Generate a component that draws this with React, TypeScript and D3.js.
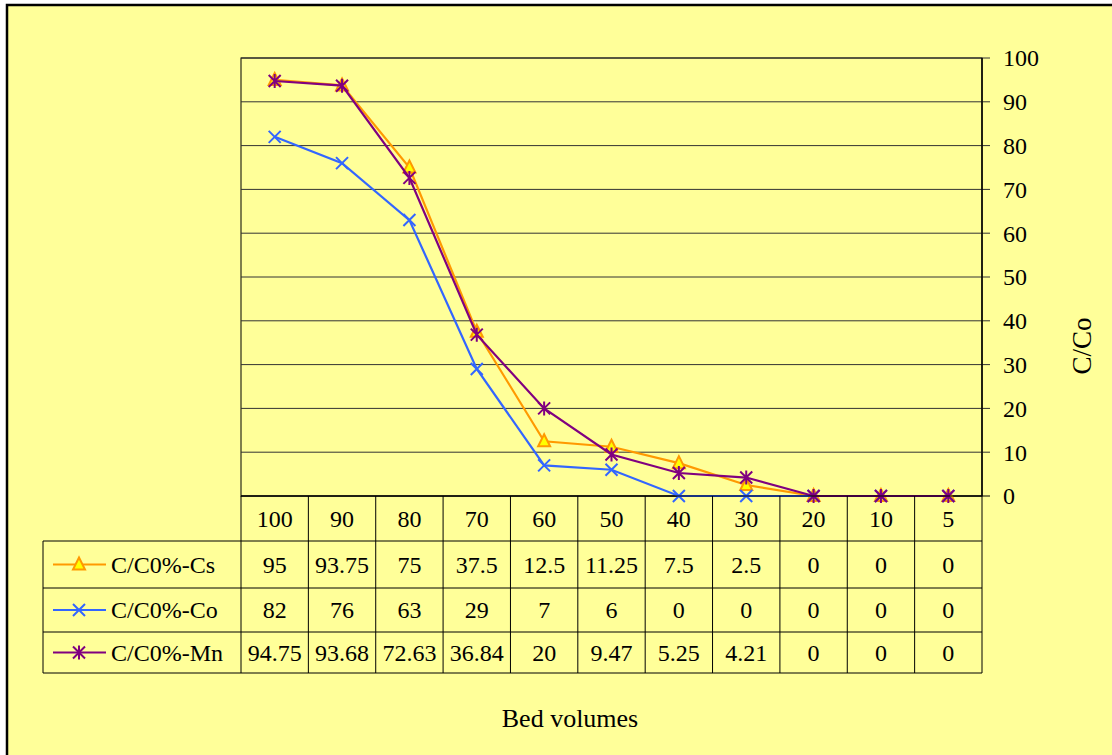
import React from "react";
import * as d3 from "d3";

const categories = ["100", "90", "80", "70", "60", "50", "40", "30", "20", "10", "5"];
const csValues = [95, 93.75, 75, 37.5, 12.5, 11.25, 7.5, 2.5, 0, 0, 0];
const coValues = [82, 76, 63, 29, 7, 6, 0, 0, 0, 0, 0];
const mnValues = [94.75, 93.68, 72.63, 36.84, 20, 9.47, 5.25, 4.21, 0, 0, 0];
const yTicks = [0, 10, 20, 30, 40, 50, 60, 70, 80, 90, 100];

const seriesList = [
  { name: "C/C0%-Cs", values: csValues, color: "#FF9900", marker: "triangle" },
  { name: "C/C0%-Co", values: coValues, color: "#3366FF", marker: "x" },
  { name: "C/C0%-Mn", values: mnValues, color: "#800080", marker: "star" },
];

const W = 1112;
const H = 755;
const plotLeft = 241;
const plotRight = 982;
const plotTop = 58;
const plotBottom = 496;
const tableLeft = 43;
const rowEdges = [496, 541, 588, 632, 673];
const serif = "Liberation Serif";
const bg = "#FFFF99";
const txt = { fontFamily: serif, fill: "#000" } as React.CSSProperties;
const fs = 24;

function Marker({ kind, x, y, color }: { kind: string; x: number; y: number; color: string }) {
  const s = 6;
  if (kind === "triangle") {
    return (
      <path
        d={`M${x},${y - s - 1}L${x + s},${y + s - 1}L${x - s},${y + s - 1}Z`}
        fill="#FFFF00"
        stroke={color}
        strokeWidth={2}
      />
    );
  }
  if (kind === "x") {
    return (
      <path
        d={`M${x - s},${y - s}L${x + s},${y + s}M${x - s},${y + s}L${x + s},${y - s}`}
        stroke={color}
        strokeWidth={2}
        fill="none"
      />
    );
  }
  return (
    <path
      d={`M${x - s},${y - s}L${x + s},${y + s}M${x - s},${y + s}L${x + s},${y - s}M${x},${y - s - 1}L${x},${y + s + 1}`}
      stroke={color}
      strokeWidth={2}
      fill="none"
    />
  );
}

export default function App() {
  const x = d3.scaleBand<string>().domain(categories).range([plotLeft, plotRight]);
  const y = d3.scaleLinear().domain([0, 100]).range([plotBottom, plotTop]);
  const cx = (c: string) => (x(c) as number) + x.bandwidth() / 2;
  const line = d3
    .line<number>()
    .x((_, i) => cx(categories[i]))
    .y((d) => y(d));

  return (
    <svg
      width={W}
      height={H}
      style={{ position: "absolute", left: 0, top: 0, display: "block", fontFamily: serif }}
    >
      <rect x={0} y={0} width={W} height={H} fill="#FFFFFF" />
      <rect x={7} y={5} width={W + 20} height={H + 20} fill={bg} stroke="#000" strokeWidth={2.5} />

      {/* plot area and gridlines */}
      <rect x={plotLeft} y={plotTop} width={plotRight - plotLeft} height={plotBottom - plotTop} fill={bg} stroke="#000" strokeWidth={1} />
      {yTicks.map((t) => (
        <g key={t}>
          <line x1={plotLeft} x2={plotRight + 8} y1={y(t)} y2={y(t)} stroke={t === 0 ? "#000" : "#333"} strokeWidth={1} />
          <text x={1003} y={y(t)} dy="0.35em" fontSize={fs} style={txt}>
            {t}
          </text>
        </g>
      ))}
      <line x1={plotRight} x2={plotRight} y1={plotTop} y2={plotBottom} stroke="#000" strokeWidth={1.5} />

      {/* series */}
      {seriesList.map((s) => (
        <g key={s.name}>
          <path d={line(s.values) || ""} fill="none" stroke={s.color} strokeWidth={2.2} />
          {s.values.map((v, i) => (
            <Marker key={i} kind={s.marker} x={cx(categories[i])} y={y(v)} color={s.color} />
          ))}
        </g>
      ))}

      {/* data table */}
      <g stroke="#000" strokeWidth={1}>
        <line x1={plotLeft} x2={plotLeft} y1={rowEdges[0]} y2={rowEdges[4]} />
        <line x1={plotRight} x2={plotRight} y1={rowEdges[0]} y2={rowEdges[4]} />
        <line x1={tableLeft} x2={tableLeft} y1={rowEdges[1]} y2={rowEdges[4]} />
        {categories.slice(1).map((c) => (
          <line key={c} x1={x(c) as number} x2={x(c) as number} y1={rowEdges[0]} y2={rowEdges[4]} />
        ))}
        <line x1={plotLeft} x2={plotRight} y1={rowEdges[0]} y2={rowEdges[0]} />
        {rowEdges.slice(1).map((r) => (
          <line key={r} x1={tableLeft} x2={plotRight} y1={r} y2={r} />
        ))}
      </g>
      {categories.map((c) => (
        <text key={c} x={cx(c)} y={(rowEdges[0] + rowEdges[1]) / 2} dy="0.35em" textAnchor="middle" fontSize={fs} style={txt}>
          {c}
        </text>
      ))}
      {seriesList.map((s, r) => {
        const yc = (rowEdges[r + 1] + rowEdges[r + 2]) / 2;
        return (
          <g key={s.name}>
            <line x1={53} x2={106} y1={yc} y2={yc} stroke={s.color} strokeWidth={2} />
            <Marker kind={s.marker} x={79} y={yc} color={s.color} />
            <text x={111} y={yc} dy="0.35em" fontSize={fs} style={txt}>
              {s.name}
            </text>
            {s.values.map((v, i) => (
              <text key={i} x={cx(categories[i])} y={yc} dy="0.35em" textAnchor="middle" fontSize={fs} style={txt}>
                {String(v)}
              </text>
            ))}
          </g>
        );
      })}

      {/* axis titles */}
      <text x={570} y={718} dy="0.35em" textAnchor="middle" fontSize={26} style={txt}>
        Bed volumes
      </text>
      <text
        transform={`translate(1082,346) rotate(-90)`}
        dy="0.35em"
        textAnchor="middle"
        fontSize={27}
        style={txt}
      >
        C/Co
      </text>
    </svg>
  );
}
